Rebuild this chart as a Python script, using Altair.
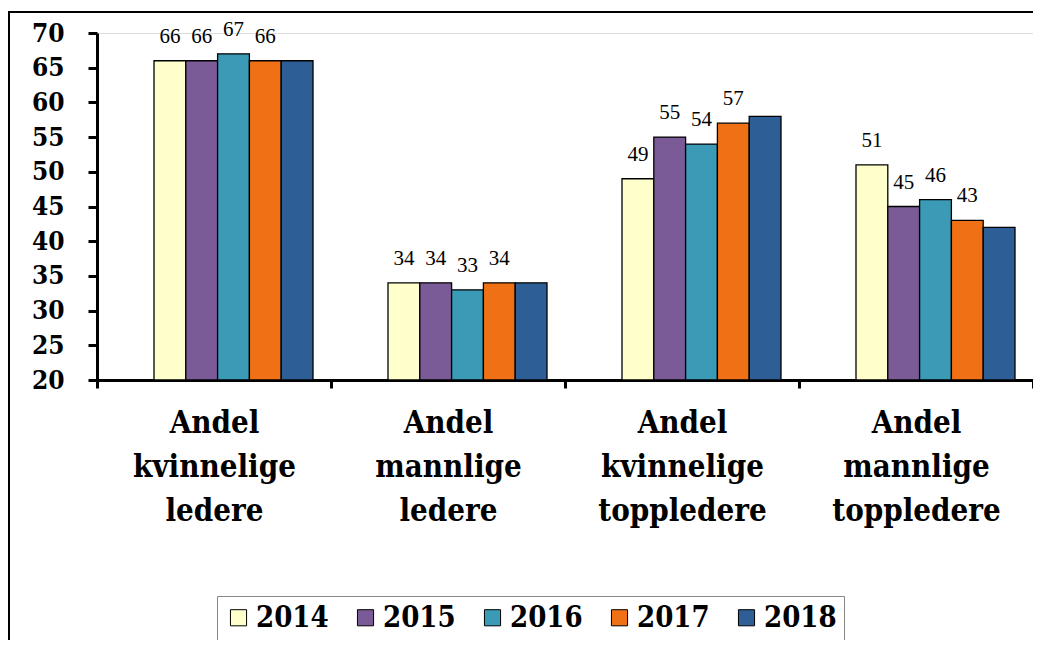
import altair as alt
import pandas as pd

categories = ["Andel kvinnelige ledere", "Andel mannlige ledere",
              "Andel kvinnelige toppledere", "Andel mannlige toppledere"]
years = ["2014", "2015", "2016", "2017", "2018"]
v2014 = [66, 34, 49, 51]
v2015 = [66, 34, 55, 45]
v2016 = [67, 33, 54, 46]
v2017 = [66, 34, 57, 43]
v2018 = [66, 34, 58, 42]
colors = ["#FFFFCC", "#7B5B97", "#3B9AB6", "#F07015", "#2E5E96"]
labeled_years = ["2014", "2015", "2016", "2017"]
y_base = 20

series = {"2014": v2014, "2015": v2015, "2016": v2016, "2017": v2017, "2018": v2018}
rows = []
for y in years:
    for c, v in zip(categories, series[y]):
        rows.append({"category": c, "year": y, "value": v})
df = pd.DataFrame(rows)

BOLD_FONT = "DejaVu Serif Condensed"
TEXT_FONT = "Liberation Serif"

x = alt.X("category:N", sort=categories,
          scale=alt.Scale(paddingInner=0, paddingOuter=0),
          axis=alt.Axis(title=None, labelExpr="split(datum.label, ' ')", labelAngle=0,
                        labelFont=BOLD_FONT, labelFontWeight="bold", labelFontSize=31,
                        labelLineHeight=44, labelColor="black", labelBaseline="top",
                        labelPadding=20, labelLimit=400, labelOverlap=False,
                        tickBand="extent", tickSize=8, tickWidth=3, tickColor="black",
                        domainColor="black", domainWidth=3))
y = alt.Y("value:Q", scale=alt.Scale(domain=[20, 70], nice=False, zero=False),
          axis=alt.Axis(title=None, values=list(range(20, 71, 5)), grid=False,
                        labelFont=BOLD_FONT, labelFontWeight="bold", labelFontSize=26,
                        labelColor="black", labelPadding=24, tickSize=9, tickWidth=3,
                        tickColor="black", domainColor="black", domainWidth=3))
xo = alt.XOffset("year:N", sort=years,
                 scale=alt.Scale(paddingInner=0, paddingOuter=0, range=[57, 216]))

bars = alt.Chart(df).mark_bar(stroke="black", strokeWidth=1.3).encode(
    x=x, y=y, y2=alt.datum(y_base), xOffset=xo,
    color=alt.Color("year:N", sort=years,
                    scale=alt.Scale(domain=years, range=colors),
                    legend=alt.Legend(title=None, orient="none", legendX=120, legendY=563,
                                      direction="horizontal", columns=5,
                                      symbolType="square", symbolSize=260,
                                      symbolStrokeColor="black", symbolStrokeWidth=1,
                                      labelFont=BOLD_FONT, labelFontWeight="bold",
                                      labelFontSize=29, labelColor="black",
                                      labelOffset=3, columnPadding=22,
                                      strokeColor="#888888", padding=7,
                                      fillColor="white")),
)

labels = alt.Chart(df).transform_filter(
    alt.FieldOneOfPredicate(field="year", oneOf=labeled_years)
).mark_text(baseline="alphabetic", dy=-18, font=TEXT_FONT, fontSize=21, color="black").encode(
    x=x, y=y, xOffset=xo, text=alt.Text("value:Q"))

border = alt.Chart(alt.Data(values=[{}])).mark_rect(
    fill=None, stroke="black", strokeWidth=2
).encode(x=alt.value(-88), x2=alt.value(980), y=alt.value(-21), y2=alt.value(700))

chart = alt.layer(border, bars, labels).properties(
    width=936, height=347,
    padding={"left": 89, "top": 25, "right": 0, "bottom": 260},
    autosize=alt.AutoSizeParams(type="none"),
).configure_view(stroke=None).configure(background="white")

chart.save("out.html", embed_options={"renderer": "svg", "actions": False})
